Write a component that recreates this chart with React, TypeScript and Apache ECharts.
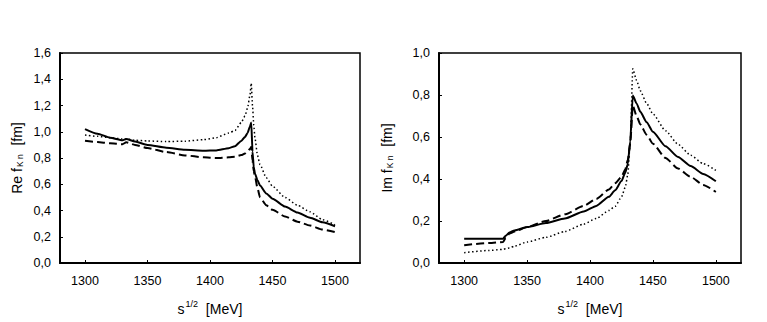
import React, { useEffect, useRef } from "react";
import * as echarts from "echarts";

const reX = [1300, 1310, 1320, 1330, 1333, 1340, 1350, 1365, 1380, 1395, 1405, 1415, 1420, 1425, 1428, 1430, 1432, 1433, 1434, 1435, 1436, 1438, 1440, 1445, 1450, 1460, 1470, 1480, 1490, 1500];
const reSolid = [1.02, 0.985, 0.955, 0.935, 0.945, 0.925, 0.9, 0.878, 0.862, 0.855, 0.858, 0.875, 0.89, 0.93, 0.96, 0.99, 1.04, 1.07, 0.85, 0.73, 0.68, 0.63, 0.59, 0.53, 0.49, 0.43, 0.385, 0.345, 0.31, 0.28];
const reDotted = [0.975, 0.965, 0.955, 0.945, 0.945, 0.935, 0.93, 0.925, 0.928, 0.94, 0.955, 0.99, 1.01, 1.07, 1.12, 1.18, 1.28, 1.37, 1.2, 1.05, 0.95, 0.82, 0.75, 0.65, 0.585, 0.5, 0.44, 0.39, 0.33, 0.29];
const reDashed = [0.932, 0.922, 0.912, 0.905, 0.92, 0.9, 0.876, 0.845, 0.82, 0.805, 0.8, 0.805, 0.81, 0.822, 0.835, 0.85, 0.87, 0.885, 0.78, 0.7, 0.66, 0.57, 0.5, 0.44, 0.405, 0.355, 0.315, 0.285, 0.255, 0.235];

const imX = [1300, 1320, 1331, 1333, 1336, 1340, 1350, 1365, 1380, 1395, 1405, 1415, 1420, 1425, 1428, 1430, 1432, 1434, 1437, 1440, 1445, 1450, 1460, 1470, 1480, 1490, 1500];
const imSolid = [0.116, 0.116, 0.116, 0.13, 0.145, 0.155, 0.171, 0.19, 0.212, 0.245, 0.272, 0.315, 0.346, 0.39, 0.43, 0.47, 0.58, 0.798, 0.76, 0.72, 0.67, 0.625, 0.556, 0.505, 0.462, 0.424, 0.389];
const imDashed = [0.085, 0.095, 0.1, 0.12, 0.14, 0.15, 0.171, 0.2, 0.232, 0.272, 0.305, 0.35, 0.38, 0.41, 0.445, 0.49, 0.57, 0.75, 0.7, 0.66, 0.61, 0.568, 0.5, 0.45, 0.41, 0.372, 0.338];
const imDotted = [0.049, 0.06, 0.065, 0.068, 0.072, 0.08, 0.1, 0.122, 0.15, 0.185, 0.212, 0.25, 0.27, 0.314, 0.36, 0.42, 0.58, 0.925, 0.87, 0.82, 0.76, 0.71, 0.63, 0.565, 0.513, 0.473, 0.441];

const xTicks = [1300, 1350, 1400, 1450, 1500];

const FONT = "Liberation Sans, Arial, sans-serif";

function pairs(xs: number[], ys: number[]) {
  return xs.map((x, i) => [x, ys[i]]);
}

export default function App() {
  const ref = useRef<HTMLDivElement>(null);
  useEffect(() => {
    if (!ref.current) return;
    const chart = echarts.init(ref.current, null, { renderer: "svg" });
    const fmt = (v: number) => v.toFixed(1).replace(".", ",");
    const xAxisBase = (gridIndex: number) => ({
      type: "value",
      gridIndex,
      min: 1280,
      max: 1520,
      axisLine: { show: true, lineStyle: { color: "#000", width: 2 } },
      axisTick: { show: true, inside: true, length: 3, customValues: xTicks, lineStyle: { color: "#000" } },
      axisLabel: { customValues: xTicks, formatter: (v: number) => String(v), color: "#000", fontSize: 12.5, fontFamily: FONT, margin: 11 },
      splitLine: { show: false },
      name: "{b|s}{sup|1/2}{b|  [MeV]}",
      nameLocation: "middle",
      nameGap: 36,
      nameTextStyle: {
        rich: {
          b: { fontSize: 14, fontFamily: FONT, color: "#000", verticalAlign: "bottom" },
          sup: { fontSize: 9, fontFamily: FONT, color: "#000", padding: [0, 0, 8, 1], verticalAlign: "bottom" },
        },
      },
    });
    const yAxisBase = (gridIndex: number, max: number, prefix: string, gap: number) => ({
      type: "value",
      gridIndex,
      min: 0,
      max,
      interval: 0.2,
      axisLine: { show: true, lineStyle: { color: "#000", width: 2 } },
      axisTick: { show: true, inside: true, length: 3, lineStyle: { color: "#000" } },
      axisLabel: { formatter: fmt, color: "#000", fontSize: 12.5, fontFamily: FONT, margin: 9 },
      splitLine: { show: false },
      name: `{b|${prefix} f}{sub|K n}{b|  [fm]}`,
      nameLocation: "middle",
      nameRotate: 90,
      nameGap: gap,
      nameTextStyle: {
        rich: {
          b: { fontSize: 14, fontFamily: FONT, color: "#000" },
          sub: { fontSize: 8.5, fontFamily: FONT, color: "#000", padding: [6, 1, 0, 1] },
        },
      },
    });
    const line = (name: string, xi: number, data: number[][], type: any, width: number) => ({
      name,
      type: "line",
      xAxisIndex: xi,
      yAxisIndex: xi,
      data,
      showSymbol: false,
      symbol: "none",
      smooth: 0.2,
      smoothMonotone: "x",
      lineStyle: { color: "#000", width, type },
      z: 3,
    });
    chart.setOption({
      animation: false,
      backgroundColor: "#fff",
      grid: [
        { left: 60, right: 407, top: 53, bottom: 59, show: true, borderColor: "#000", borderWidth: 1.5 },
        { left: 439, right: 26, top: 53, bottom: 59, show: true, borderColor: "#000", borderWidth: 1.5 },
      ],
      xAxis: [xAxisBase(0), xAxisBase(1)],
      yAxis: [yAxisBase(0, 1.6, "Re", 36), yAxisBase(1, 1.0, "Im", 45)],
      series: [
        line("Re solid", 0, pairs(reX, reSolid), "solid", 2),
        line("Re dotted", 0, pairs(reX, reDotted), [1.5, 2.5], 1.5),
        line("Re dashed", 0, pairs(reX, reDashed), [8, 4], 2),
        line("Im solid", 1, pairs(imX, imSolid), "solid", 2),
        line("Im dotted", 1, pairs(imX, imDotted), [1.5, 2.5], 1.5),
        line("Im dashed", 1, pairs(imX, imDashed), [8, 4], 2),
      ],
    });
    return () => chart.dispose();
  }, []);
  return <div ref={ref} style={{ position: "fixed", left: 0, top: 0, width: 767, height: 322 }} />;
}
